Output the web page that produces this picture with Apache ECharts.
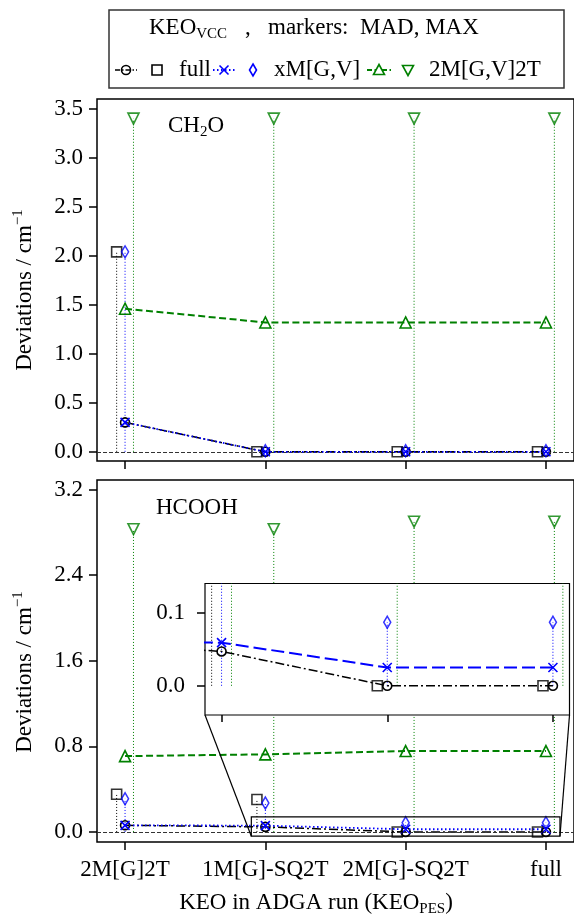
<!DOCTYPE html>
<html><head><meta charset="utf-8">
<script src="https://cdn.jsdelivr.net/npm/echarts@6/dist/echarts.min.js"></script>
<style>html,body{margin:0;padding:0;background:#fff}#c{width:574px;height:916px}</style>
</head><body><div id="c"></div>
<script>
// ---------- data ----------
const categories = ['2M[G]2T', '1M[G]-SQ2T', '2M[G]-SQ2T', 'full'];
// CH2O panel
const ch2oFullMAD = [0.30, 0.0, 0.0, 0.0];
const ch2oFullMAX = [2.04, 0.0, 0.0, 0.0];
const ch2oXmMAD   = [0.30, 0.0, 0.0, 0.0];
const ch2oXmMAX   = [2.04, 0.01, 0.01, 0.01];
const ch2o2mMAD   = [1.46, 1.32, 1.32, 1.32];
const ch2o2mMAX   = [3.40, 3.40, 3.40, 3.40];
// HCOOH panel
const hcoohFullMAD = [0.062, 0.047, 0.0, 0.0];
const hcoohFullMAX = [0.353, 0.303, 0.0, 0.0];
const hcoohXmMAD   = [0.062, 0.059, 0.025, 0.025];
const hcoohXmMAX   = [0.31, 0.27, 0.087, 0.087];
const hcooh2mMAD   = [0.709, 0.725, 0.756, 0.756];
const hcooh2mMAX   = [2.83, 2.83, 2.90, 2.90];
// tick values
const ticksTop = [0, 0.5, 1.0, 1.5, 2.0, 2.5, 3.0, 3.5];
const ticksBottom = [0, 0.8, 1.6, 2.4, 3.2];
const ticksInset = [0, 0.1];
const xTicks = [0, 1, 2, 3];
const xTicksInset = [1, 2, 3];
// axis limits
const xLim = [-0.2, 3.2];
const yLimTop = [-0.094, 3.6];
const yLimBottom = [-0.094, 3.29];
const insetXLim = [0.9, 3.1];
const insetYLim = [-0.04, 0.14];

// ---------- style ----------
const FONT = 'Liberation Serif';
const FS = 23;
const SFS = 15;
const BLACK = '#000', BLUE = '#0000ff', GREEN = '#008000';
const OFF = 0.06;
const GRID_TOP = {left: 97, top: 99, width: 479, height: 362};
const GRID_BOT = {left: 97, top: 480, width: 479, height: 362};
const INSET = {left: 205, top: 583.5, width: 364.5, height: 131.5};
const XSYM = 'path://M0,0L10,10M0,10L10,0';
const DASHDOT = [9, 3, 2, 3];
const DOTTED = [1.5, 2.5];
const DASHED = [7, 3.5];
const LONGDASH = [13, 5];

const pts = (arr, off) => arr.map((v, i) => [i + off, v]);

function stem(ax, arr, off, color, z, clip) {
  return {
    type: 'custom', xAxisIndex: ax, yAxisIndex: ax, data: pts(arr, off), clip: !!clip, z: z, silent: true,
    renderItem: (params, api) => {
      const p0 = api.coord([api.value(0), 0]);
      const p1 = api.coord([api.value(0), api.value(1)]);
      return {type: 'line', shape: {x1: p0[0], y1: p0[1], x2: p1[0], y2: p1[1]},
        style: {stroke: color, lineWidth: 1, lineDash: [1, 2], fill: null}};
    }
  };
}
function mad(ax, arr, color, dash, width, symbol, size, z) {
  return {
    type: 'line', xAxisIndex: ax, yAxisIndex: ax, data: pts(arr, 0), symbol: symbol, symbolSize: size,
    showAllSymbol: true, z: z, silent: true,
    lineStyle: {color: color, width: width, type: dash},
    itemStyle: {color: 'rgba(0,0,0,0)', borderColor: color, borderWidth: 1.6}
  };
}
function mx(ax, arr, off, color, symbol, size, rot, z) {
  return {
    type: 'scatter', xAxisIndex: ax, yAxisIndex: ax, data: pts(arr, off), symbol: symbol, symbolSize: size,
    symbolRotate: rot || 0, z: z, silent: true,
    itemStyle: {color: 'rgba(0,0,0,0)', borderColor: color, borderWidth: 1.6}
  };
}
function zeroLine(ax, z) {
  return {
    type: 'line', xAxisIndex: ax, yAxisIndex: ax, data: [], z: z, silent: true,
    markLine: {silent: true, symbol: 'none', label: {show: false}, animation: false,
      lineStyle: {color: '#333', type: [4, 2], width: 1}, data: [{yAxis: 0}]}
  };
}
function panelSeries(ax, d, inset) {
  const zb = inset ? 11 : 2;
  return [
    zeroLine(ax, zb),
    stem(ax, d.fullMAX, -OFF, BLACK, zb + 1, inset),
    stem(ax, d.xmMAX, 0, BLUE, zb + 1, inset),
    stem(ax, d.m2MAX, OFF, GREEN, zb + 1, inset),
    mad(ax, d.fullMAD, BLACK, DASHDOT, 1.5, 'circle', 9, zb + 2),
    mad(ax, d.xmMAD, BLUE, inset ? LONGDASH : DOTTED, inset ? 2 : 1.8, XSYM, 9, zb + 3),
    mad(ax, d.m2MAD, GREEN, DASHED, 2, 'triangle', 11, zb + 3),
    mx(ax, d.fullMAX, -OFF, BLACK, 'rect', 10, 0, zb + 4),
    mx(ax, d.xmMAX, 0, BLUE, 'diamond', [7, 12], 0, zb + 4),
    mx(ax, d.m2MAX, OFF, GREEN, 'triangle', 11, 180, zb + 4)
  ];
}
const ch2o = {fullMAD: ch2oFullMAD, fullMAX: ch2oFullMAX, xmMAD: ch2oXmMAD, xmMAX: ch2oXmMAX, m2MAD: ch2o2mMAD, m2MAX: ch2o2mMAX};
const hcooh = {fullMAD: hcoohFullMAD, fullMAX: hcoohFullMAX, xmMAD: hcoohXmMAD, xmMAX: hcoohXmMAX, m2MAD: hcooh2mMAD, m2MAX: hcooh2mMAX};

const txt = {fontFamily: FONT, fontSize: FS, color: '#000'};
function xAx(gi, lim, ticks, labels, tickLen) {
  return {
    type: 'value', gridIndex: gi, min: lim[0], max: lim[1],
    axisLine: {show: false, onZero: false}, splitLine: {show: false},
    axisTick: {show: true, inside: false, length: tickLen, customValues: ticks, lineStyle: {color: '#000', width: 1.5}},
    axisLabel: {show: labels, customValues: ticks, margin: 16, ...txt, formatter: v => categories[Math.round(v)]}
  };
}
function yAx(gi, lim, ticks, margin) {
  return {
    type: 'value', gridIndex: gi, min: lim[0], max: lim[1],
    axisLine: {show: false, onZero: false}, splitLine: {show: false},
    axisTick: {show: true, inside: false, length: 8, customValues: ticks, lineStyle: {color: '#000', width: 1.5}},
    axisLabel: {show: true, customValues: ticks, margin: margin, ...txt, formatter: v => v.toFixed(1)}
  };
}

const richBase = {
  a: {fontFamily: FONT, fontSize: FS, lineHeight: 28, fill: '#000'},
  sup: {fontFamily: FONT, fontSize: SFS, lineHeight: 15, verticalAlign: 'top', fill: '#000'},
  sub: {fontFamily: FONT, fontSize: SFS, lineHeight: 15, verticalAlign: 'bottom', fill: '#000'}
};
function gtext(x, y, text, align, rot) {
  return {type: 'text', x: x, y: y, z: 100, silent: true, rotation: rot || 0,
    style: {text: text, rich: richBase, fontFamily: FONT, fontSize: FS, fill: '#000', align: align || 'left', verticalAlign: 'middle'}};
}

// legend graphics
const LY = 70;
const legend = [
  {type: 'rect', shape: {x: 109, y: 10, width: 455, height: 78}, style: {fill: '#fff', stroke: '#333', lineWidth: 1.5}, z: 90, silent: true},
  gtext(149, 28, '{a|KEO}{sub|VCC}'),
  gtext(245, 28, '{a|,}'),
  gtext(268, 28, '{a|markers:  MAD, MAX}'),
  {type: 'polyline', shape: {points: [[115, LY], [137, LY]]}, style: {stroke: BLACK, lineWidth: 1.5, lineDash: [5, 2, 1.5, 2], fill: null}, z: 100, silent: true},
  {type: 'circle', shape: {cx: 126, cy: LY, r: 4.5}, style: {stroke: BLACK, lineWidth: 1.6, fill: null}, z: 101, silent: true},
  {type: 'rect', shape: {x: 152, y: LY - 5, width: 10, height: 10}, style: {stroke: BLACK, lineWidth: 1.6, fill: null}, z: 101, silent: true},
  gtext(179, LY, '{a|full}'),
  {type: 'polyline', shape: {points: [[213, LY], [236, LY]]}, style: {stroke: BLUE, lineWidth: 1.8, lineDash: DOTTED, fill: null}, z: 100, silent: true},
  {type: 'polyline', shape: {points: [[219.5, LY - 4.5], [228.5, LY + 4.5]]}, style: {stroke: BLUE, lineWidth: 1.6, fill: null}, z: 101, silent: true},
  {type: 'polyline', shape: {points: [[219.5, LY + 4.5], [228.5, LY - 4.5]]}, style: {stroke: BLUE, lineWidth: 1.6, fill: null}, z: 101, silent: true},
  {type: 'polygon', shape: {points: [[253, LY - 6], [256.5, LY], [253, LY + 6], [249.5, LY]]}, style: {stroke: BLUE, lineWidth: 1.6, fill: null}, z: 101, silent: true},
  gtext(274, LY, '{a|xM[G,V]}'),
  {type: 'polyline', shape: {points: [[367, LY], [391, LY]]}, style: {stroke: GREEN, lineWidth: 2, lineDash: [5, 2.5], fill: null}, z: 100, silent: true},
  {type: 'polygon', shape: {points: [[379, LY - 5.5], [384.5, LY + 4.5], [373.5, LY + 4.5]]}, style: {stroke: GREEN, lineWidth: 1.6, fill: '#fff'}, z: 101, silent: true},
  {type: 'polygon', shape: {points: [[408, LY + 5.5], [413.5, LY - 4.5], [402.5, LY - 4.5]]}, style: {stroke: GREEN, lineWidth: 1.6, fill: null}, z: 101, silent: true},
  gtext(429, LY, '{a|2M[G,V]2T}')
];

const labels = [
  gtext(168, 126, '{a|CH}{sub|2}{a|O}'),
  gtext(156, 508, '{a|HCOOH}'),
  gtext(25, 290, '{a|Deviations / cm}{sup|−1}', 'center', Math.PI / 2),
  gtext(25, 672, '{a|Deviations / cm}{sup|−1}', 'center', Math.PI / 2),
  gtext(316, 903, '{a|KEO in ADGA run (KEO}{sub|PES}{a|)}', 'center')
];

// inset indicator rectangle + connectors (drawn on bottom panel axes)
const indicator = {
  type: 'custom', xAxisIndex: 1, yAxisIndex: 1, data: [[insetXLim[0], insetYLim[0]]], clip: false, z: 9, silent: true,
  renderItem: (params, api) => {
    const a = api.coord([insetXLim[0], insetYLim[1]]);
    const b = api.coord([insetXLim[1], insetYLim[0]]);
    const st = {stroke: '#000', lineWidth: 1.2, fill: null};
    return {type: 'group', children: [
      {type: 'rect', shape: {x: a[0], y: a[1], width: b[0] - a[0], height: b[1] - a[1]}, style: st},
      {type: 'line', shape: {x1: INSET.left, y1: INSET.top + INSET.height, x2: a[0], y2: b[1]}, style: st},
      {type: 'line', shape: {x1: INSET.left + INSET.width, y1: INSET.top + INSET.height, x2: b[0], y2: b[1]}, style: st}
    ]};
  }
};

const chart = echarts.init(document.getElementById('c'), null, {renderer: 'canvas'});
chart.setOption({
  animation: false,
  backgroundColor: '#fff',
  grid: [
    Object.assign({show: true, borderColor: '#000', borderWidth: 1.5, backgroundColor: 'transparent', z: 0}, GRID_TOP),
    Object.assign({show: true, borderColor: '#000', borderWidth: 1.5, backgroundColor: 'transparent', z: 0}, GRID_BOT),
    Object.assign({show: true, borderColor: '#000', borderWidth: 1.2, backgroundColor: '#fff', z: 10}, INSET)
  ],
  xAxis: [
    xAx(0, xLim, xTicks, false, 8),
    xAx(1, xLim, xTicks, true, 8),
    Object.assign(xAx(2, insetXLim, xTicksInset, false, 7), {z: 12})
  ],
  yAxis: [
    yAx(0, yLimTop, ticksTop, 14),
    yAx(1, yLimBottom, ticksBottom, 14),
    Object.assign(yAx(2, insetYLim, ticksInset, 20), {z: 12})
  ],
  series: [
    ...panelSeries(0, ch2o, false),
    ...panelSeries(1, hcooh, false),
    indicator,
    ...panelSeries(2, hcooh, true)
  ],
  graphic: [...legend, ...labels]
});
</script>
</body></html>
